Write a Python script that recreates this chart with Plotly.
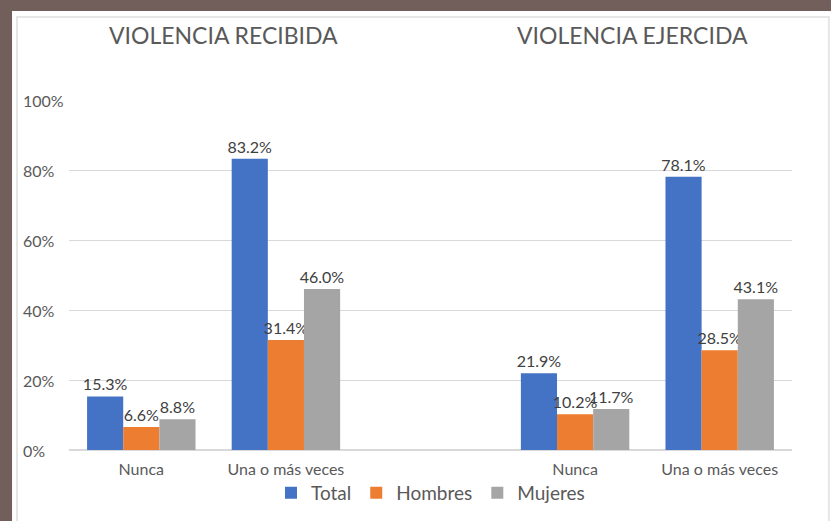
import plotly.graph_objects as go

categories = ["Nunca", "Una o más veces", "", "Nunca", "Una o más veces"]
series_names = ["Total", "Hombres", "Mujeres"]
positions = [0, 1, 3, 4]
total = [0.153, 0.832, 0.219, 0.781]
hombres = [0.066, 0.314, 0.102, 0.285]
mujeres = [0.088, 0.460, 0.117, 0.431]
colors = ["#4472C4", "#ED7D31", "#A5A5A5"]
y_ticks = [0, 0.2, 0.4, 0.6, 0.8, 1.0]
y_ticklabels = ["0%", "20%", "40%", "60%", "80%", "100%"]
titles = ["VIOLENCIA RECIBIDA", "VIOLENCIA EJERCIDA"]

fig = go.Figure()
for name, vals, col in zip(series_names, [total, hombres, mujeres], colors):
    fig.add_trace(go.Bar(
        x=positions, y=vals, name=name, marker=dict(color=col, line=dict(width=0)),
        text=[f"{v*100:.1f}%" for v in vals], textposition="outside",
        textfont=dict(family="Lato", size=16, color="#404040"),
        constraintext="none", cliponaxis=False,
    ))

fig.update_layout(
    width=831, height=521,
    margin=dict(l=69, r=39, t=100, b=71, autoexpand=False),
    paper_bgcolor="#725f5b",
    plot_bgcolor="rgba(0,0,0,0)",
    barmode="group", bargap=0.25, bargroupgap=0,
    font=dict(family="Lato", color="#595959"),
    showlegend=True,
    legend=dict(orientation="h", x=0.5, xanchor="center", y=0.054, yref="container",
                yanchor="middle",
                font=dict(family="Lato", size=19, color="#595959"),
                bgcolor="rgba(0,0,0,0)", itemwidth=30, tracegroupgap=0),
    xaxis=dict(range=[-0.5, 4.5], tickvals=list(range(len(categories))), ticktext=categories,
               showgrid=False, showline=False, zeroline=False, ticks="",
               automargin=False, ticklabelstandoff=8,
               tickfont=dict(family="Lato", size=16, color="#595959")),
    yaxis=dict(range=[0, 1], tickvals=y_ticks, showticklabels=False, showgrid=True,
               gridcolor="#d9d9d9", gridwidth=1, zeroline=True, zerolinecolor="#d9d9d9",
               showline=False, ticks="", automargin=False),
    shapes=[
        dict(type="rect", xref="paper", yref="paper", x0=-0.0788, x1=1.06, y0=-0.21, y1=1.254,
             fillcolor="white", line=dict(width=0), layer="below"),
        dict(type="rect", xref="paper", yref="paper", x0=-0.0719, x1=1.051, y0=-0.25, y1=1.237,
             fillcolor="rgba(0,0,0,0)", line=dict(width=2, color="#e6e6e6"), layer="below"),
    ],
)

ann = []
for v, t in zip(y_ticks, y_ticklabels):
    ann.append(dict(x=-0.0664, xref="paper", y=v, yref="y", text=t, showarrow=False,
                    xanchor="left", yanchor="middle",
                    font=dict(family="Lato", size=16, color="#595959")))
for xp, t in zip([0.2143, 0.7800], titles):
    ann.append(dict(x=xp, xref="paper", y=1.186, yref="paper", text=t, showarrow=False,
                    xanchor="center", yanchor="middle",
                    font=dict(family="Lato", size=23, color="#595959")))
fig.update_layout(annotations=ann)

fig.write_html("out.html", config={"displayModeBar": False},
               post_script="document.body.style.margin='0';")
